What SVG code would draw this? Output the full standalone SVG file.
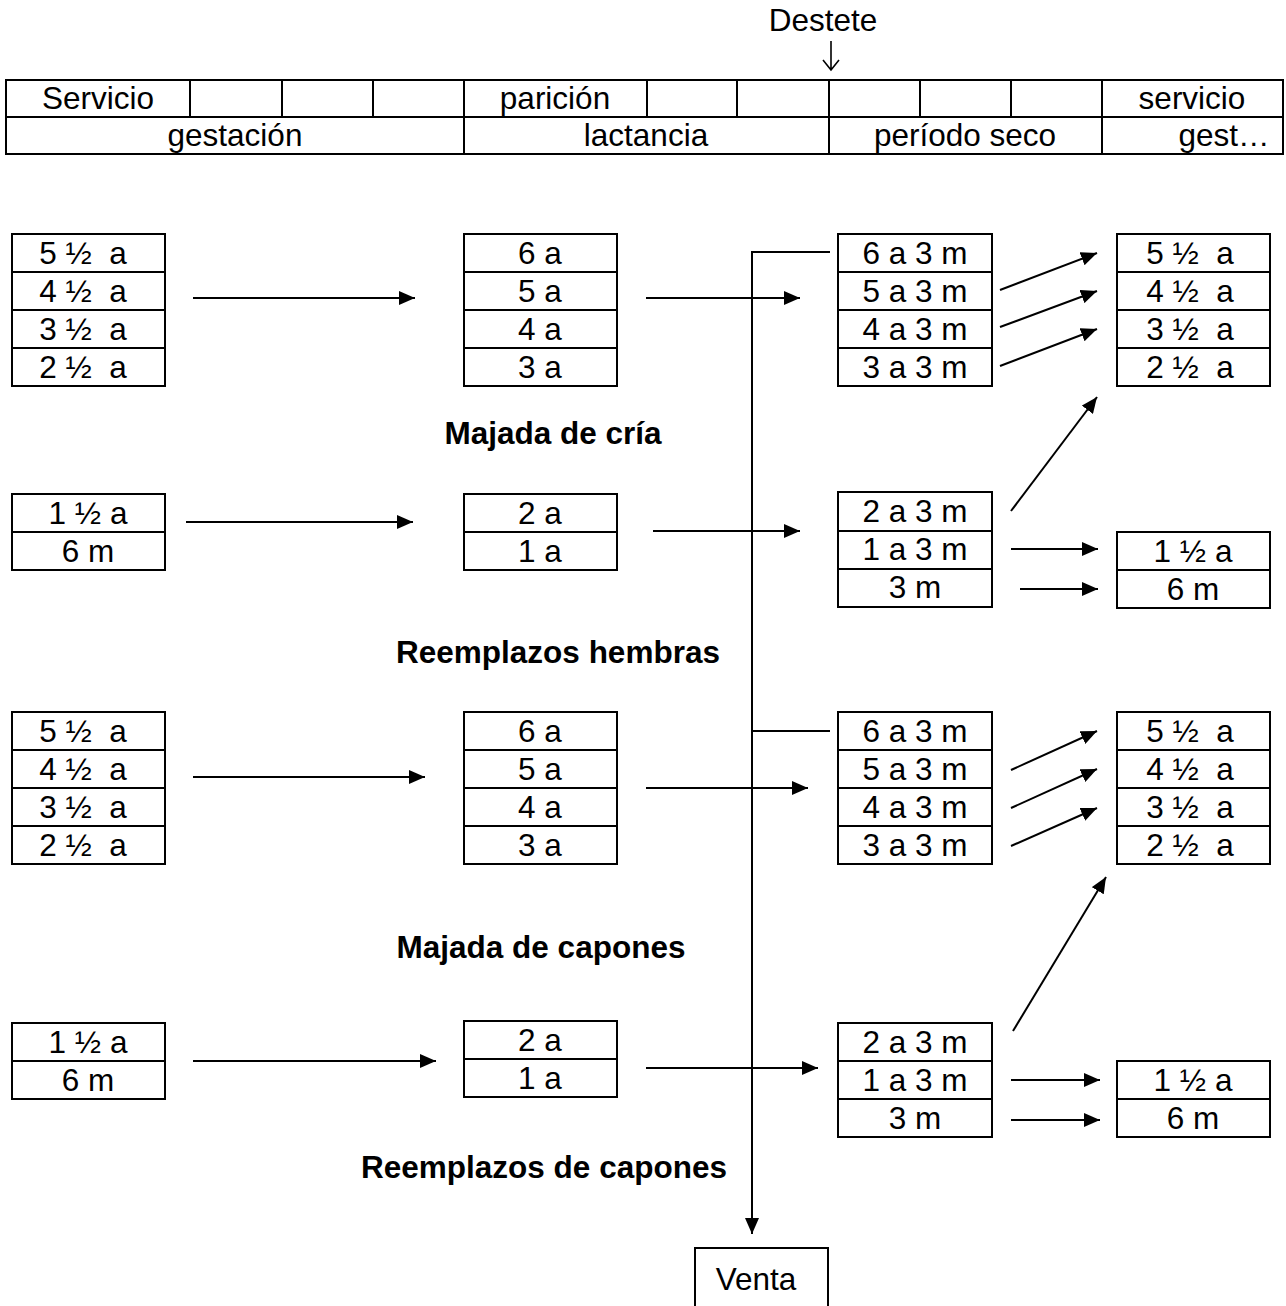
<svg xmlns="http://www.w3.org/2000/svg" width="1286" height="1306" viewBox="0 0 1286 1306">
<defs>
<marker id="ah" markerWidth="16" markerHeight="14" refX="16" refY="7" orient="auto" markerUnits="userSpaceOnUse"><path d="M0,0 L16,7 L0,14 z" fill="#000"/></marker>
<style>
text{font-family:"Liberation Sans",Arial,sans-serif;font-size:31.5px;fill:#000;text-anchor:middle;white-space:pre}
.b{font-weight:bold}
.box rect,.box line,.tbl rect,.tbl line{fill:none;stroke:#000;stroke-width:2}
.c line,.c path{stroke:#000;stroke-width:2;fill:none}
</style>
</defs>
<rect width="1286" height="1306" fill="#fff"/>
<g id="header" class="tbl">
<rect x="6" y="80" width="1277" height="74"/>
<line x1="6" y1="117" x2="1283" y2="117"/>
<line x1="190" y1="80" x2="190" y2="117"/><line x1="282" y1="80" x2="282" y2="117"/><line x1="373" y1="80" x2="373" y2="117"/>
<line x1="464" y1="80" x2="464" y2="154"/><line x1="647" y1="80" x2="647" y2="117"/><line x1="737" y1="80" x2="737" y2="117"/>
<line x1="829" y1="80" x2="829" y2="154"/><line x1="920" y1="80" x2="920" y2="117"/><line x1="1011" y1="80" x2="1011" y2="117"/>
<line x1="1102" y1="80" x2="1102" y2="154"/>
<text x="98" y="109">Servicio</text><text x="555" y="109">parición</text><text x="1192" y="109">servicio</text>
<text x="235" y="146">gestación</text><text x="646" y="146">lactancia</text><text x="965" y="146">período seco</text><text x="1224" y="146">gest…</text>
</g>
<g id="destete"><text x="823" y="31">Destete</text><path d="M831,41 V70 M823,60 L831,70 L839,60" fill="none" stroke="#000" stroke-width="1.6"/></g>

<g id="cria-left" class="box"><rect x="12" y="234" width="153" height="152"/><line x1="12" y1="272" x2="165" y2="272"/><line x1="12" y1="310" x2="165" y2="310"/><line x1="12" y1="348" x2="165" y2="348"/>
<text x="83" y="264">5 ½&#160; a</text><text x="83" y="302">4 ½&#160; a</text><text x="83" y="340">3 ½&#160; a</text><text x="83" y="378">2 ½&#160; a</text></g>
<g id="cria-mid" class="box"><rect x="464" y="234" width="153" height="152"/><line x1="464" y1="272" x2="617" y2="272"/><line x1="464" y1="310" x2="617" y2="310"/><line x1="464" y1="348" x2="617" y2="348"/>
<text x="540" y="264">6 a</text><text x="540" y="302">5 a</text><text x="540" y="340">4 a</text><text x="540" y="378">3 a</text></g>
<g id="cria-r1" class="box"><rect x="838" y="234" width="154" height="152"/><line x1="838" y1="272" x2="992" y2="272"/><line x1="838" y1="310" x2="992" y2="310"/><line x1="838" y1="348" x2="992" y2="348"/>
<text x="915" y="264">6 a 3 m</text><text x="915" y="302">5 a 3 m</text><text x="915" y="340">4 a 3 m</text><text x="915" y="378">3 a 3 m</text></g>
<g id="cria-r2" class="box"><rect x="1117" y="234" width="153" height="152"/><line x1="1117" y1="272" x2="1270" y2="272"/><line x1="1117" y1="310" x2="1270" y2="310"/><line x1="1117" y1="348" x2="1270" y2="348"/>
<text x="1190" y="264">5 ½&#160; a</text><text x="1190" y="302">4 ½&#160; a</text><text x="1190" y="340">3 ½&#160; a</text><text x="1190" y="378">2 ½&#160; a</text></g>
<text class="b" x="553" y="444">Majada de cría</text>

<g id="hem-left" class="box"><rect x="12" y="494" width="153" height="76"/><line x1="12" y1="532" x2="165" y2="532"/>
<text x="88" y="524">1 ½ a</text><text x="88" y="562">6 m</text></g>
<g id="hem-mid" class="box"><rect x="464" y="494" width="153" height="76"/><line x1="464" y1="532" x2="617" y2="532"/>
<text x="540" y="524">2 a</text><text x="540" y="562">1 a</text></g>
<g id="hem-r1" class="box"><rect x="838" y="492" width="154" height="115"/><line x1="838" y1="531" x2="992" y2="531"/><line x1="838" y1="569" x2="992" y2="569"/>
<text x="915" y="522">2 a 3 m</text><text x="915" y="560">1 a 3 m</text><text x="915" y="598">3 m</text></g>
<g id="hem-r2" class="box"><rect x="1117" y="532" width="153" height="76"/><line x1="1117" y1="570" x2="1270" y2="570"/>
<text x="1193" y="562">1 ½ a</text><text x="1193" y="600">6 m</text></g>
<text class="b" x="558" y="663">Reemplazos hembras</text>

<g id="cap-left" class="box"><rect x="12" y="712" width="153" height="152"/><line x1="12" y1="750" x2="165" y2="750"/><line x1="12" y1="788" x2="165" y2="788"/><line x1="12" y1="826" x2="165" y2="826"/>
<text x="83" y="742">5 ½&#160; a</text><text x="83" y="780">4 ½&#160; a</text><text x="83" y="818">3 ½&#160; a</text><text x="83" y="856">2 ½&#160; a</text></g>
<g id="cap-mid" class="box"><rect x="464" y="712" width="153" height="152"/><line x1="464" y1="750" x2="617" y2="750"/><line x1="464" y1="788" x2="617" y2="788"/><line x1="464" y1="826" x2="617" y2="826"/>
<text x="540" y="742">6 a</text><text x="540" y="780">5 a</text><text x="540" y="818">4 a</text><text x="540" y="856">3 a</text></g>
<g id="cap-r1" class="box"><rect x="838" y="712" width="154" height="152"/><line x1="838" y1="750" x2="992" y2="750"/><line x1="838" y1="788" x2="992" y2="788"/><line x1="838" y1="826" x2="992" y2="826"/>
<text x="915" y="742">6 a 3 m</text><text x="915" y="780">5 a 3 m</text><text x="915" y="818">4 a 3 m</text><text x="915" y="856">3 a 3 m</text></g>
<g id="cap-r2" class="box"><rect x="1117" y="712" width="153" height="152"/><line x1="1117" y1="750" x2="1270" y2="750"/><line x1="1117" y1="788" x2="1270" y2="788"/><line x1="1117" y1="826" x2="1270" y2="826"/>
<text x="1190" y="742">5 ½&#160; a</text><text x="1190" y="780">4 ½&#160; a</text><text x="1190" y="818">3 ½&#160; a</text><text x="1190" y="856">2 ½&#160; a</text></g>
<text class="b" x="541" y="958">Majada de capones</text>

<g id="rcap-left" class="box"><rect x="12" y="1023" width="153" height="76"/><line x1="12" y1="1061" x2="165" y2="1061"/>
<text x="88" y="1053">1 ½ a</text><text x="88" y="1091">6 m</text></g>
<g id="rcap-mid" class="box"><rect x="464" y="1021" width="153" height="76"/><line x1="464" y1="1059" x2="617" y2="1059"/>
<text x="540" y="1051">2 a</text><text x="540" y="1089">1 a</text></g>
<g id="rcap-r1" class="box"><rect x="838" y="1023" width="154" height="114"/><line x1="838" y1="1061" x2="992" y2="1061"/><line x1="838" y1="1099" x2="992" y2="1099"/>
<text x="915" y="1053">2 a 3 m</text><text x="915" y="1091">1 a 3 m</text><text x="915" y="1129">3 m</text></g>
<g id="rcap-r2" class="box"><rect x="1117" y="1061" width="153" height="76"/><line x1="1117" y1="1099" x2="1270" y2="1099"/>
<text x="1193" y="1091">1 ½ a</text><text x="1193" y="1129">6 m</text></g>
<text class="b" x="544" y="1178">Reemplazos de capones</text>

<g id="venta" class="box"><rect x="695" y="1248" width="133" height="70"/><text x="756" y="1290">Venta</text></g>

<g id="connectors" class="c">
<path d="M830,252 H752 V1234" marker-end="url(#ah)"/>
<line x1="752" y1="731" x2="830" y2="731"/>
<line x1="193" y1="298" x2="415" y2="298" marker-end="url(#ah)"/>
<line x1="646" y1="298" x2="800" y2="298" marker-end="url(#ah)"/>
<line x1="1000" y1="290" x2="1097" y2="253" marker-end="url(#ah)"/>
<line x1="1000" y1="327" x2="1097" y2="291" marker-end="url(#ah)"/>
<line x1="1000" y1="366" x2="1097" y2="329" marker-end="url(#ah)"/>
<line x1="186" y1="522" x2="413" y2="522" marker-end="url(#ah)"/>
<line x1="653" y1="531" x2="800" y2="531" marker-end="url(#ah)"/>
<line x1="1011" y1="511" x2="1097" y2="397" marker-end="url(#ah)"/>
<line x1="1011" y1="549" x2="1098" y2="549" marker-end="url(#ah)"/>
<line x1="1020" y1="589" x2="1098" y2="589" marker-end="url(#ah)"/>
<line x1="193" y1="777" x2="425" y2="777" marker-end="url(#ah)"/>
<line x1="646" y1="788" x2="808" y2="788" marker-end="url(#ah)"/>
<line x1="1011" y1="770" x2="1097" y2="731" marker-end="url(#ah)"/>
<line x1="1011" y1="808" x2="1097" y2="769" marker-end="url(#ah)"/>
<line x1="1011" y1="846" x2="1097" y2="808" marker-end="url(#ah)"/>
<line x1="193" y1="1061" x2="436" y2="1061" marker-end="url(#ah)"/>
<line x1="646" y1="1068" x2="818" y2="1068" marker-end="url(#ah)"/>
<line x1="1013" y1="1031" x2="1106" y2="877" marker-end="url(#ah)"/>
<line x1="1011" y1="1080" x2="1100" y2="1080" marker-end="url(#ah)"/>
<line x1="1011" y1="1120" x2="1100" y2="1120" marker-end="url(#ah)"/>
</g>
</svg>
